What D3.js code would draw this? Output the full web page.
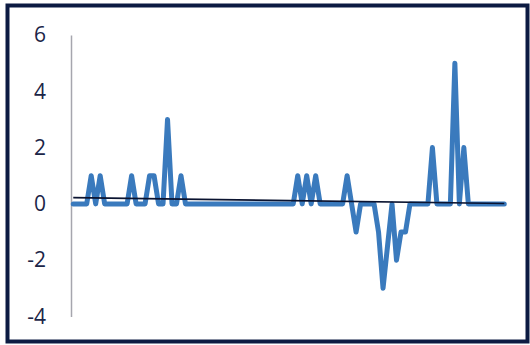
<!DOCTYPE html>
<html>
<head>
<meta charset="utf-8">
<script src="https://cdn.jsdelivr.net/npm/d3@7"></script>
<style>
  body { margin: 0; background: #fff; }
</style>
</head>
<body>
<div class="chart"></div>
<script>

// values, one per category (97 categories)
const values = [
  0, 0, 0, 0, 1, 0, 1, 0, 0, 0,
  0, 0, 0, 1, 0, 0, 0, 1, 1, 0,
  0, 3, 0, 0, 1, 0, 0, 0, 0, 0,
  0, 0, 0, 0, 0, 0, 0, 0, 0, 0,
  0, 0, 0, 0, 0, 0, 0, 0, 0, 0,
  1, 0, 1, 0, 1, 0, 0, 0, 0, 0,
  0, 1, 0, -1, 0, 0, 0, 0, -1, -3,
  -1.5, 0, -2, -1, -1, 0, 0, 0, 0, 0,
  2, 0, 0, 0, 0, 5, 0, 2, 0, 0,
  0, 0, 0, 0, 0, 0, 0
];
const categories = values.map((v, i) => i + 1);
const yTicks = [-4, -2, 0, 2, 4, 6];

const width = 530;
const height = 345;

const svg = d3.select('.chart')
  .append('svg')
  .attr('width', width)
  .attr('height', height);

// outer frame
svg.append('rect')
  .attr('x', 7.5)
  .attr('y', 5.5)
  .attr('width', 520)
  .attr('height', 336)
  .attr('fill', 'none')
  .attr('stroke', '#0c1b42')
  .attr('stroke-width', 4);

const xScale = d3.scalePoint()
  .domain(categories)
  .range([71, 506.5])
  .padding(0.5);

const yScale = d3.scaleLinear()
  .domain([-4, 6])
  .range([316.5, 35]);

// value axis, labels only plus a grey line
const yAxis = svg.append('g')
  .attr('transform', 'translate(71,0)')
  .call(d3.axisLeft(yScale)
    .tickValues(yTicks)
    .tickFormat(d => String(d))   // plain hyphen like the original
    .tickSize(0)
    .tickPadding(25));

yAxis.select('.domain')
  .attr('stroke', '#a6a6ae')
  .attr('stroke-width', 1.5);

yAxis.selectAll('text')
  .attr('font-family', '"Open Sans", "Noto Sans", sans-serif')
  .attr('font-size', 21)
  .attr('fill', '#1b2547');

// the series
const line = d3.line()
  .x((d, i) => xScale(categories[i]))
  .y(d => yScale(d));

svg.append('path')
  .datum(values)
  .attr('d', line)
  .attr('fill', 'none')
  .attr('stroke', '#3a7abd')
  .attr('stroke-width', 5)
  .attr('stroke-linejoin', 'round')
  .attr('stroke-linecap', 'round');

// linear trendline (least squares over category index)
const n = values.length;
const meanX = d3.mean(values, (d, i) => i);
const meanY = d3.mean(values);
let sxy = 0, sxx = 0;
values.forEach((v, i) => {
  sxy += (i - meanX) * (v - meanY);
  sxx += (i - meanX) * (i - meanX);
});
const slope = sxy / sxx;
const intercept = meanY - slope * meanX;

const trend = [0, n - 1].map(i => ({x: xScale(categories[i]), y: yScale(intercept + slope * i)}));

svg.append('line')
  .attr('x1', trend[0].x)
  .attr('y1', trend[0].y)
  .attr('x2', trend[1].x)
  .attr('y2', trend[1].y)
  .attr('stroke', '#0a1330')
  .attr('stroke-width', 1.6);

</script>
</body>
</html>
